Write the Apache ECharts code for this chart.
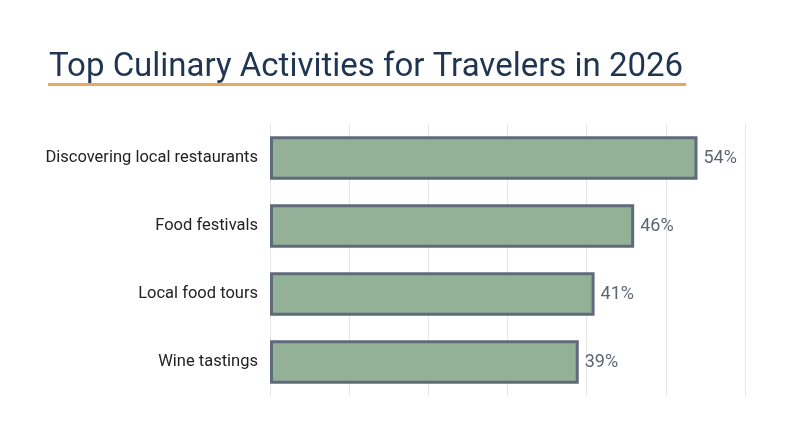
<!DOCTYPE html>
<html style="height: 100%">
<head>
    <meta charset="utf-8">
</head>
<body style="height: 100%; margin: 0; background: #fff">
<div id="container" style="height: 100%"></div>
<script type="text/javascript" src="https://cdn.jsdelivr.net/npm/echarts@6/dist/echarts.min.js"></script>
<script type="text/javascript">
    // data, top to bottom
    var categories = ['Discovering local restaurants', 'Food festivals', 'Local food tours', 'Wine tastings'];
    var shares = [54, 46, 41, 39];

    var titleText = 'Top Culinary Activities for Travelers in 2026';
    var titleSize = 33;

    var dom = document.getElementById('container');
    var myChart = echarts.init(dom);

    // width of the title, for the orange underline
    var ctx = document.createElement('canvas').getContext('2d');
    ctx.font = titleSize + 'px Roboto';
    var titleW = ctx.measureText(titleText).width;

    var option = {
        backgroundColor: '#fff',
        title: {
            text: titleText,
            left: 44,
            top: 46,
            textStyle: {
                fontFamily: 'Roboto',
                fontSize: titleSize,
                fontWeight: 'normal',
                color: '#1f3552'
            }
        },
        graphic: [{
            type: 'rect',
            left: 48,
            top: 83,
            shape: { width: titleW + 4, height: 3 },
            style: { fill: '#e9a85a' }
        }],
        grid: {
            left: 270,
            right: 55,
            top: 124,
            bottom: 51,
            containLabel: false
        },
        xAxis: {
            type: 'value',
            min: 0,
            max: 60,
            interval: 10,
            axisLabel: { show: false },
            axisLine: { show: false },
            axisTick: { show: false },
            splitLine: { lineStyle: { color: '#e6e6e6', width: 1 } }
        },
        yAxis: {
            type: 'category',
            inverse: true,
            data: categories,
            axisLine: { show: false },
            axisTick: { show: false },
            axisLabel: {
                margin: 12,
                fontFamily: 'Roboto',
                fontSize: 16.5,
                color: '#222'
            }
        },
        series: [{
            type: 'bar',
            data: shares,
            barWidth: '64%',
            itemStyle: {
                color: '#93b196',
                borderColor: '#5f6b7a',
                borderWidth: 3
            },
            label: {
                show: true,
                position: 'right',
                distance: 6,
                formatter: '{c}%',
                fontFamily: 'Roboto',
                fontSize: 18,
                color: '#5f6570'
            }
        }]
    };

    myChart.setOption(option);
</script>
</body>
</html>
